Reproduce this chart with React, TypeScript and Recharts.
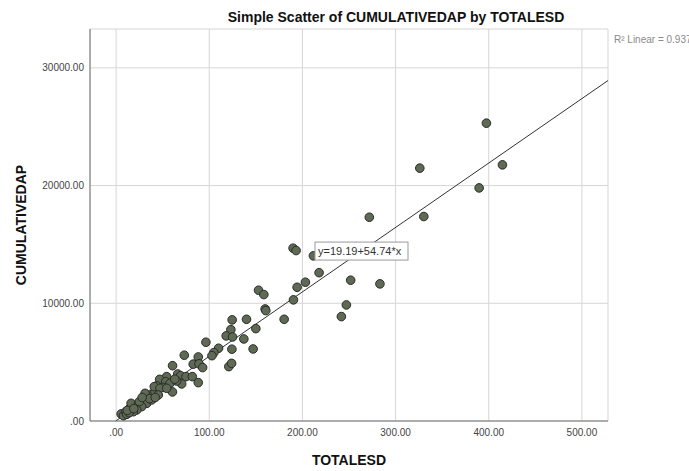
import React from 'react';
import {
  ScatterChart,
  Scatter,
  XAxis,
  YAxis,
  CartesianGrid,
  ReferenceLine,
  ReferenceDot,
} from 'recharts';

// TOTALESD (x) and CUMULATIVEDAP (y)
const totalEsd = [
  397.5, 414.7, 326, 389.7, 271.8, 330.3,
  190, 193.2, 211.8, 217.9, 203.2, 194.3, 251.8, 283.2, 190.4, 247.2, 241.8,
  152.9, 158.6, 160, 160.7, 180.4, 124.6, 140, 150, 123.2, 118.2, 125, 137.1, 96.4,
  124.3, 147.1, 110, 105, 102.9, 73.2, 88.2,
  121, 124, 82.8, 89, 92.9, 60.6,
  66.1, 69.3, 75, 81.8, 54.3, 46.8, 53.2, 57.9, 70.4, 88.2, 43.6, 50.7, 60.5,
  5.4, 7.9, 10.4, 13.9, 16.8, 20.4, 16.1, 23.9, 26.8, 30.3, 34, 37.5, 41.8, 41, 47.1,
  32.9, 27.5, 22.2, 18.5, 11.5, 38.2, 45.3, 54.3, 31.1, 14, 25, 36, 28, 12, 19, 42, 65, 63,
];
const cumulativeDap = [
  25300, 21760, 21480, 19800, 17310, 17370,
  14680, 14480, 14030, 12600, 11790, 11360, 11960, 11650, 10290, 9860, 8870,
  11110, 10740, 9520, 9380, 8640, 8590, 8640, 7850, 7760, 7230, 7140, 6970, 6690,
  6100, 6120, 6180, 5810, 5550, 5590, 5440,
  4620, 4900, 4830, 4860, 4540, 4700,
  3990, 3850, 3770, 3770, 3770, 3540, 3340, 3200, 3150, 3260, 2980, 2860, 2470,
  600, 450, 790, 1020, 1130, 1300, 1500, 1420, 1640, 1870, 2070, 2270, 2490, 2920, 2780,
  1500, 1220, 940, 790, 570, 1790, 2210, 2780, 2350, 700, 1650, 1900, 2000, 900, 1050, 2000, 3400, 3550,
];

const xTicks = [0, 100, 200, 300, 400, 500];
const yTicks = [0, 10000, 20000, 30000];
const xDomain: [number, number] = [-28, 528];
const yDomain: [number, number] = [0, 33300];

const fitIntercept = 19.19;
const fitSlope = 54.74;
const rSquared = 0.937;
// where SPSS parked the equation box (data units)
const eqLabelAt = { x: 213.5, y: 15200 };

const FONT = '"Liberation Sans", Arial, sans-serif';

const fmt = (v: number) => (v === 0 ? '.00' : v.toFixed(2));

const Dot = (props: any) => (
  <circle cx={props.cx} cy={props.cy} r={4.3} fill="#5f6a54" stroke="#2a2a2a" strokeWidth={1} />
);

const EqBox = (props: any) => {
  const { cx, cy } = props;
  return (
    <g>
      <rect x={cx} y={cy} width={93} height={18} fill="#ffffff" stroke="#9a9a9a" strokeWidth={1} />
      <text x={cx + 3} y={cy + 13} fontSize={11} fontFamily={FONT} fill="#333">
        {`y=${fitIntercept}+${fitSlope}*x`}
      </text>
    </g>
  );
};

export default function App() {
  const data = totalEsd.map((x, i) => ({ x, y: cumulativeDap[i] }));
  const xStart = -fitIntercept / fitSlope;
  const xEnd = xDomain[1];

  return (
    <div style={{ position: 'absolute', left: 0, top: 0, width: 689, height: 471, background: '#fff', overflow: 'hidden' }}>
      <ScatterChart width={689} height={471} margin={{ top: 29, right: 81, left: 0, bottom: 0 }}>
        <CartesianGrid stroke="#d6d6d6" strokeWidth={1} />
        <XAxis
          type="number"
          dataKey="x"
          domain={xDomain}
          ticks={xTicks}
          tickFormatter={fmt}
          allowDataOverflow
          height={50}
          axisLine={{ stroke: '#6e6e6e' }}
          tickLine={false}
          tick={{ fontSize: 10, fill: '#444', fontFamily: FONT }}
        />
        <YAxis
          type="number"
          dataKey="y"
          domain={yDomain}
          ticks={yTicks}
          tickFormatter={fmt}
          allowDataOverflow
          width={90}
          axisLine={{ stroke: '#6e6e6e' }}
          tickLine={false}
          tickSize={4}
          tickMargin={2}
          tick={{ fontSize: 10, fill: '#444', fontFamily: FONT }}
        />
        <ReferenceLine
          segment={[
            { x: xStart, y: fitIntercept + fitSlope * xStart },
            { x: xEnd, y: fitIntercept + fitSlope * xEnd },
          ]}
          stroke="#333"
          strokeWidth={1}
          ifOverflow="visible"
        />
        <Scatter data={data} shape={<Dot />} isAnimationActive={false} />
        <ReferenceDot x={eqLabelAt.x} y={eqLabelAt.y} r={0} shape={<EqBox />} ifOverflow="visible" />
      </ScatterChart>
      <svg width={689} height={471} style={{ position: 'absolute', left: 0, top: 0, pointerEvents: 'none' }}>
        <text x={396} y={22} textAnchor="middle" fontSize={14} fontWeight="bold" fontFamily={FONT} fill="#111">
          Simple Scatter of CUMULATIVEDAP by TOTALESD
        </text>
        <text x={614} y={43} fontSize={10} fontFamily={FONT} fill="#8a8a8a">
          {`R² Linear = ${rSquared}`}
        </text>
        <text x={349} y={465} textAnchor="middle" fontSize={14} fontWeight="bold" fontFamily={FONT} fill="#111">
          TOTALESD
        </text>
        <text
          x={0}
          y={0}
          transform="translate(26 225) rotate(-90)"
          textAnchor="middle"
          fontSize={14}
          fontWeight="bold"
          fontFamily={FONT}
          fill="#111"
        >
          CUMULATIVEDAP
        </text>
      </svg>
    </div>
  );
}
